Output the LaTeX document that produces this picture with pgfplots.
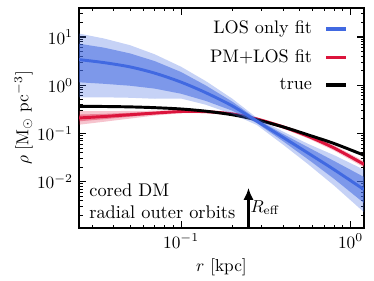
\documentclass[border=0pt]{standalone}
\usepackage{pgfplots}
\pgfplotsset{compat=1.18}
\usepackage{pgfplotstable}
\usetikzlibrary{arrows.meta}
\definecolor{losblue}{RGB}{65,105,225}
\definecolor{pmred}{RGB}{220,20,60}

\pgfplotstableread{
r     med
0.025 3.40
0.035 2.95
0.05  2.40
0.07  1.78
0.1   1.16
0.14  0.700
0.2   0.375
0.28  0.180
0.4   0.0830
0.56  0.0395
0.8   0.0178
1.2   0.0069
}\losdata

\pgfplotstableread{
r     med
0.025 0.21
0.035 0.225
0.05  0.245
0.07  0.265
0.1   0.285
0.14  0.283
0.2   0.255
0.28  0.200
0.4   0.137
0.56  0.088
0.8   0.050
1.2   0.023
}\pmdata

\pgfplotstableread{
r     rho
0.025 0.366
0.035 0.363
0.05  0.356
0.07  0.343
0.1   0.322
0.14  0.290
0.2   0.245
0.28  0.192
0.4   0.137
0.56  0.094
0.8   0.062
1.2   0.0355
}\truedata

\begin{document}
\begin{tikzpicture}
\useasboundingbox (-45.7pt,-30.6pt) rectangle (170.5pt,131.8pt);
\begin{axis}[
  at={(0,0)}, anchor=south west,
  scale only axis, width=164.7pt, height=127.2pt,
  xmode=log, ymode=log,
  xmin=0.025, xmax=1.2, ymin=1.1e-3, ymax=40,
  axis line style={line width=1pt},
  major tick length=4pt, minor tick length=2pt,
  every tick/.style={black, line width=0.6pt},
  xlabel={$r$ [kpc]},
  ylabel={$\rho$ [M$_\odot$ pc$^{-3}$]},
  xlabel style={at={(axis description cs:0.5,-0.18)}, anchor=center},
  ylabel style={at={(axis description cs:-0.195,0.5)}, anchor=center},
  legend style={at={(axis description cs:0.95,0.965)}, anchor=north east,
    draw=none, fill=none, legend cell align=right, row sep=3.6pt,
    column sep=5pt, inner sep=1pt, font=\fontsize{10.5}{12.6}\selectfont},
  legend plot pos=right,
  legend image code/.code={\draw[#1] (0cm,0cm) -- (0.4cm,0cm);},
]
% PM+LOS fit bands
\addplot[fill=pmred, fill opacity=0.25, draw=none, forget plot] coordinates {
(0.025,0.290)(0.035,0.290)(0.05,0.294)(0.07,0.297)(0.1,0.309)(0.14,0.303)(0.2,0.273)(0.28,0.214)(0.4,0.1485)(0.56,0.0976)(0.8,0.0568)(1.2,0.0267)
(1.2,0.0198)(0.8,0.0441)(0.56,0.0794)(0.4,0.1265)(0.28,0.187)(0.2,0.238)(0.14,0.264)(0.1,0.263)(0.07,0.236)(0.05,0.204)(0.035,0.175)(0.025,0.152)
} -- cycle;
\addplot[fill=pmred, fill opacity=0.4, draw=none, forget plot] coordinates {
(0.025,0.247)(0.035,0.255)(0.05,0.269)(0.07,0.281)(0.1,0.297)(0.14,0.293)(0.2,0.264)(0.28,0.207)(0.4,0.1428)(0.56,0.0926)(0.8,0.0532)(1.2,0.0247)
(1.2,0.0214)(0.8,0.0470)(0.56,0.0837)(0.4,0.1314)(0.28,0.193)(0.2,0.246)(0.14,0.273)(0.1,0.273)(0.07,0.250)(0.05,0.223)(0.035,0.198)(0.025,0.179)
} -- cycle;
\addplot[pmred, line width=1.7pt, smooth, forget plot] table[x=r,y=med]{\pmdata};
% true
\addplot[black, line width=1.7pt, smooth, forget plot] table[x=r,y=rho]{\truedata};
% LOS only fit bands
\addplot[fill=losblue, fill opacity=0.3, draw=none, forget plot] coordinates {
(0.025,11.78)(0.035,9.33)(0.05,6.76)(0.07,4.37)(0.1,2.42)(0.14,1.216)(0.2,0.530)(0.28,0.211)(0.4,0.1094)(0.56,0.0612)(0.8,0.0355)(1.2,0.01774)
(1.2,0.00234)(0.8,0.00832)(0.56,0.0233)(0.4,0.0587)(0.28,0.150)(0.2,0.254)(0.14,0.394)(0.1,0.530)(0.07,0.525)(0.05,0.550)(0.035,0.562)(0.025,0.564)
} -- cycle;
\addplot[fill=losblue, fill opacity=0.55, draw=none, forget plot] coordinates {
(0.025,7.26)(0.035,6.03)(0.05,4.57)(0.07,3.16)(0.1,1.88)(0.14,0.989)(0.2,0.461)(0.28,0.197)(0.4,0.0975)(0.56,0.0521)(0.8,0.0269)(1.2,0.01256)
(1.2,0.00362)(0.8,0.01148)(0.56,0.0293)(0.4,0.0690)(0.28,0.164)(0.2,0.298)(0.14,0.473)(0.1,0.667)(0.07,0.851)(0.05,0.977)(0.035,1.072)(0.025,1.151)
} -- cycle;
\addplot[losblue, line width=1.7pt, smooth, forget plot] table[x=r,y=med]{\losdata};

\addlegendimage{losblue, line width=2.2pt}
\addlegendentry{LOS only fit}
\addlegendimage{pmred, line width=2.2pt}
\addlegendentry{PM+LOS fit}
\addlegendimage{black, line width=2.2pt}
\addlegendentry{true}

\draw[line width=1.6pt, -{Latex[length=7pt,width=6pt]}] (axis cs:0.25,1.1e-3) -- (axis cs:0.25,0.0075);
\node[anchor=west, inner sep=1pt] at (axis cs:0.25,0.0029) {$R_{\mathrm{eff}}$};
\node[anchor=south west, align=left, inner sep=0pt, font=\fontsize{10.6}{12.6}\selectfont] at (axis description cs:0.035,0.04) {cored DM\\radial outer orbits};
\end{axis}
\end{tikzpicture}
\end{document}
